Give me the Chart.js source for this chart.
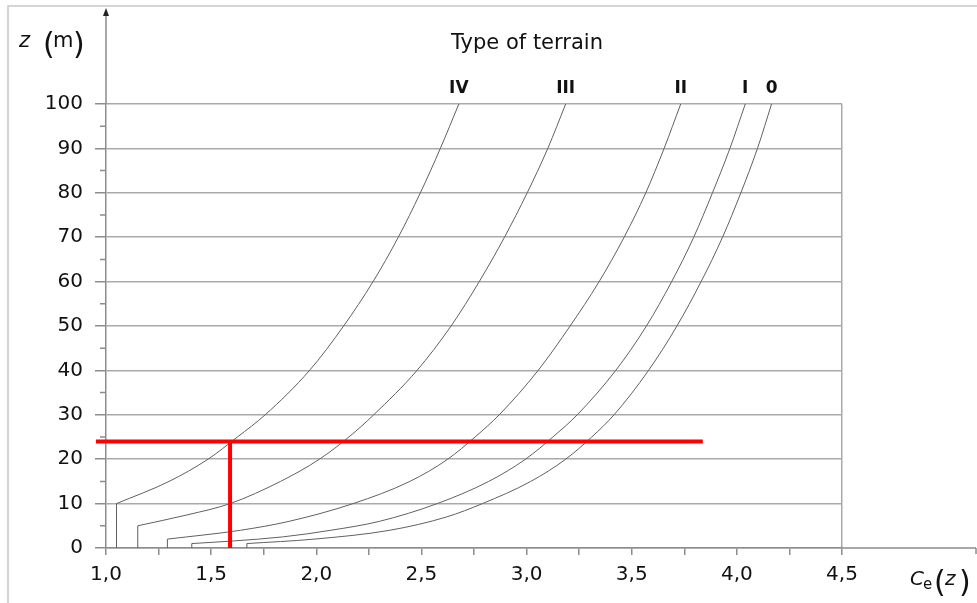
<!DOCTYPE html>
<html>
<head>
<meta charset="utf-8">
<script src="https://cdn.jsdelivr.net/npm/chart.js@4.4.0/dist/chart.umd.min.js"></script>
<style>
  body { margin: 0; background: #fff; }
  canvas { display: block; }
</style>
</head>
<body>
<canvas id="chart" width="977" height="603"></canvas>
<script>
// heights z (m) and exposure factor Ce(z), per terrain type
const zIV  = [10, 15, 20, 25, 30, 40, 50, 60, 70, 80, 90, 100];
const ceIV = [1.05, 1.30, 1.485, 1.625, 1.757, 1.968, 2.13, 2.27, 2.39, 2.495, 2.59, 2.678];

const zIII  = [5, 7.5, 10, 15, 20, 25, 30, 40, 50, 60, 70, 80, 90, 100];
const ceIII = [1.151, 1.39, 1.59, 1.83, 2.015, 2.155, 2.273, 2.479, 2.641, 2.775, 2.895, 3.003, 3.101, 3.186];

const zII  = [2, 4, 6, 10, 15, 20, 25, 30, 40, 50, 60, 70, 80, 90, 100];
const ceII = [1.292, 1.64, 1.87, 2.175, 2.445, 2.625, 2.755, 2.87, 3.055, 3.207, 3.345, 3.464, 3.567, 3.654, 3.733];

const zI  = [1, 1.6, 2.5, 4, 6, 10, 15, 20, 25, 30, 40, 50, 60, 70, 80, 90, 100];
const ceI = [1.408, 1.61, 1.84, 2.07, 2.30, 2.575, 2.82, 2.995, 3.125, 3.241, 3.424, 3.57, 3.69, 3.795, 3.884, 3.967, 4.04];

const z0  = [1, 2, 4, 7, 10, 15, 20, 25, 30, 40, 50, 60, 70, 80, 90, 100];
const ce0 = [1.67, 1.99, 2.35, 2.62, 2.79, 3.02, 3.186, 3.31, 3.416, 3.58, 3.715, 3.83, 3.932, 4.019, 4.098, 4.165];

const terrainNames = ["IV", "III", "II", "I", "0"];
const terrainZ  = [zIV, zIII, zII, zI, z0];
const terrainCe = [ceIV, ceIII, ceII, ceI, ce0];

// red reading lines
const markerZ = 24;
const markerCe = 1.59;
const markerLineFrom = 0.952;
const markerLineTo = 3.838;

const xTicks = [1.0, 1.5, 2.0, 2.5, 3.0, 3.5, 4.0, 4.5];
const yTicks = [0, 10, 20, 30, 40, 50, 60, 70, 80, 90, 100];

const FONT = "'DejaVu Sans', sans-serif";
const TEXT = "#111";
const GRID = "#a9a9a9";

const toPoints = (zs, ces) => zs.map((z, i) => ({ x: ces[i], y: z }));

const datasets = [
  {
    data: [{ x: markerLineFrom, y: markerZ }, { x: markerLineTo, y: markerZ }],
    borderColor: "#ff0000", borderWidth: 4, pointRadius: 0, clip: false,
  },
  {
    data: [{ x: markerCe, y: markerZ }, { x: markerCe, y: 0 }],
    borderColor: "#ff0000", borderWidth: 4, pointRadius: 0, clip: false,
  },
];

terrainNames.forEach((name, i) => {
  const zs = terrainZ[i], ces = terrainCe[i];
  // vertical stem below z_min
  datasets.push({
    data: [{ x: ces[0], y: 0 }, { x: ces[0], y: zs[0] }],
    borderColor: "#606060", borderWidth: 1, pointRadius: 0, tension: 0,
  });
  datasets.push({
    label: name,
    data: toPoints(zs, ces),
    borderColor: "#606060", borderWidth: 1, pointRadius: 0,
    cubicInterpolationMode: "monotone",
  });
});

const decor = {
  id: "decor",
  afterDraw(chart) {
    const { ctx, scales: { x, y } } = chart;
    ctx.save();

    // picture frame
    ctx.strokeStyle = "#c8c8c8";
    ctx.lineWidth = 1.5;
    ctx.beginPath();
    ctx.moveTo(8, 603);
    ctx.lineTo(8, 6);
    ctx.lineTo(977, 6);
    ctx.stroke();

    // axis extensions with arrow on the z axis
    ctx.strokeStyle = "#8c8c8c";
    ctx.lineWidth = 1.5;
    ctx.beginPath();
    ctx.moveTo(x.left, y.top);
    ctx.lineTo(x.left, 14);
    ctx.moveTo(x.right, y.bottom);
    ctx.lineTo(976, y.bottom);
    ctx.moveTo(976, y.bottom);
    ctx.lineTo(976, y.bottom + 6);
    ctx.stroke();
    ctx.fillStyle = "#222";
    ctx.beginPath();
    ctx.moveTo(x.left, 8);
    ctx.lineTo(x.left - 3, 16);
    ctx.lineTo(x.left + 3, 16);
    ctx.closePath();
    ctx.fill();

    // minor ticks on z axis
    ctx.strokeStyle = "#8c8c8c";
    ctx.beginPath();
    for (let v = 5; v < 100; v += 10) {
      const py = y.getPixelForValue(v);
      ctx.moveTo(x.left - 6, py);
      ctx.lineTo(x.left, py);
    }
    ctx.stroke();

    ctx.fillStyle = TEXT;
    ctx.textBaseline = "alphabetic";

    // terrain labels at the top of each curve
    ctx.font = "bold 17px " + FONT;
    ctx.textAlign = "center";
    terrainNames.forEach((name, i) => {
      const ces = terrainCe[i];
      ctx.fillText(name, x.getPixelForValue(ces[ces.length - 1]), 93);
    });

    ctx.font = "21px " + FONT;
    ctx.fillText("Type of terrain", 527, 49);

    // z (m)
    ctx.textAlign = "left";
    ctx.font = "italic 21px " + FONT;
    ctx.fillText("z", 19, 47);
    ctx.font = "30px " + FONT;
    ctx.fillText("(", 43, 54);
    ctx.fillText(")", 73, 54);
    ctx.font = "21px " + FONT;
    ctx.fillText("m", 53, 47);

    // Ce(z)
    ctx.font = "italic 20px " + FONT;
    ctx.fillText("C", 910, 585);
    ctx.font = "15px " + FONT;
    ctx.fillText("e", 923, 589);
    ctx.font = "30px " + FONT;
    ctx.fillText("(", 934, 592);
    ctx.fillText(")", 959, 592);
    ctx.font = "italic 20px " + FONT;
    ctx.fillText("z", 945, 585);

    ctx.restore();
  },
};

new Chart(document.getElementById("chart"), {
  type: "line",
  data: { datasets },
  plugins: [decor],
  options: {
    responsive: false,
    animation: false,
    layout: { padding: { left: 0, top: 104, right: 135, bottom: 0 } },
    plugins: { legend: { display: false }, tooltip: { enabled: false } },
    scales: {
      x: {
        type: "linear",
        min: 1,
        max: 4.5,
        afterFit: (scale) => { scale.height = 55; },
        afterBuildTicks: (scale) => {
          const t = [];
          for (let v = 1; v <= 4.5001; v += 0.25) t.push({ value: Math.round(v * 100) / 100 });
          scale.ticks = t;
        },
        border: { color: "#8c8c8c", width: 1.5 },
        grid: {
          color: (c) => (c.tick && c.tick.value === 4.5 ? GRID : "transparent"),
          lineWidth: 1.5,
          tickColor: "#8c8c8c",
          tickLength: 7,
        },
        ticks: {
          autoSkip: false,
          maxRotation: 0,
          padding: 8,
          color: TEXT,
          font: { family: FONT, size: 20 },
          callback: (v) => (xTicks.includes(v) ? v.toFixed(1).replace(".", ",") : ""),
        },
      },
      y: {
        type: "linear",
        min: 0,
        max: 100,
        afterFit: (scale) => { scale.width = 106; },
        afterBuildTicks: (scale) => { scale.ticks = yTicks.map((v) => ({ value: v })); },
        border: { color: "#8c8c8c", width: 1.5 },
        grid: {
          color: GRID,
          lineWidth: 1.5,
          tickColor: "#8c8c8c",
          tickLength: 11,
        },
        ticks: {
          padding: 12,
          color: TEXT,
          font: { family: FONT, size: 20 },
        },
      },
    },
  },
});
</script>
</body>
</html>
